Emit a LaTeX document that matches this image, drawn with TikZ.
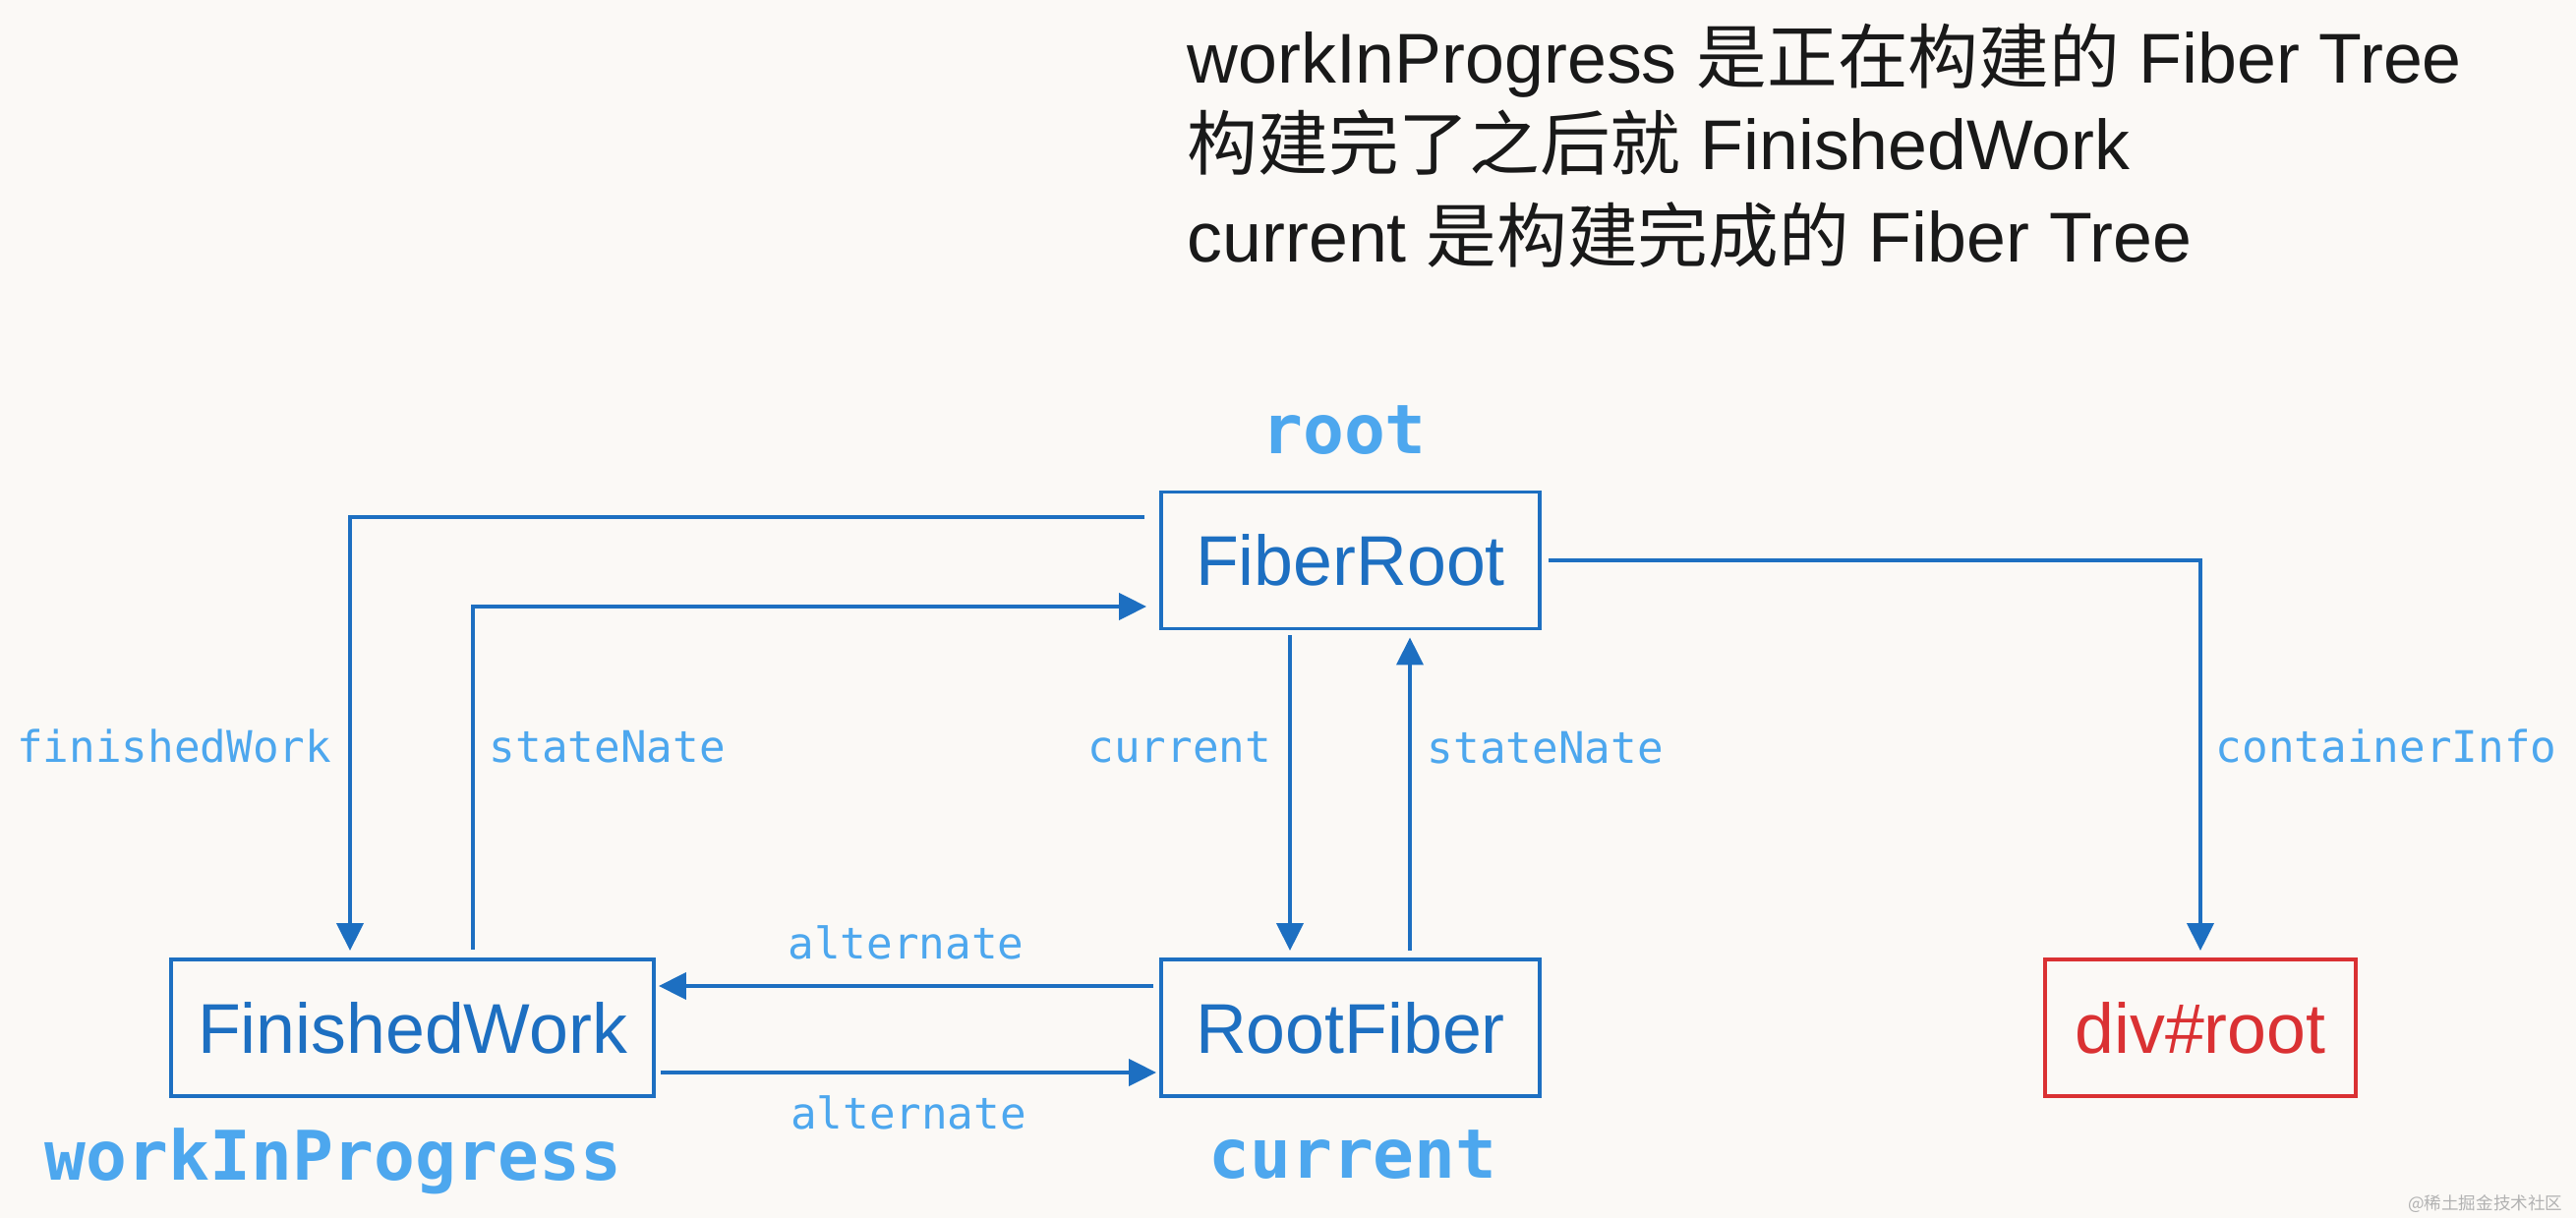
\documentclass[tikz,border=0pt]{standalone}
\usepackage{fontspec}
\setmainfont{Liberation Sans}
\setmonofont{DejaVu Sans Mono}
\newfontfamily\cjk{Noto Sans CJK SC}
\usetikzlibrary{arrows.meta}
\definecolor{boxblue}{HTML}{1D6FC1}
\definecolor{lblblue}{HTML}{4DA7EE}
\definecolor{divred}{HTML}{DA3133}
\definecolor{paper}{HTML}{FBF9F6}

\begin{document}
\begin{tikzpicture}[
        fiber/.style={draw=boxblue, line width=1.1pt, text=boxblue, font=\fontsize{20.4}{24}\selectfont, minimum height=1.39cm, inner sep=0pt},
        link/.style={draw=boxblue, line width=1.1pt, -{Triangle[length=0.28cm,width=0.27cm]}},
        edgelbl/.style={text=lblblue, font=\ttfamily\fontsize{12.6}{15}\selectfont, inner sep=0pt},
        varlbl/.style={text=lblblue, font=\ttfamily\bfseries\fontsize{19.8}{23}\selectfont, inner sep=0pt},
        note/.style={anchor=west, inner sep=0pt, text=black!90, font=\fontsize{20.4}{24}\selectfont}
    ]
    \fill[paper] (0,0) rectangle (26.2,-12.39);
    \useasboundingbox (0,0) rectangle (26.2,-12.39);

    \node[note] (line1) at (12.07,-0.62) {workInProgress {\cjk 是正在构建的} Fiber Tree};
    \node[note] (line2) at (12.07,-1.45) {{\cjk 构建完了之后就} FinishedWork};
    \node[note] (line3) at (12.07,-2.39) {current {\cjk 是构建完成的} Fiber Tree};

    \node[fiber, minimum width=3.85cm] (froot) at (13.735,-5.70) {FiberRoot};
    \node[fiber, minimum width=4.91cm] (fwork) at (4.195,-10.455) {FinishedWork};
    \node[fiber, minimum width=3.85cm] (rfiber) at (13.735,-10.455) {RootFiber};
    \node[fiber, draw=divred, text=divred, minimum width=3.16cm] (divroot) at (22.38,-10.455) {div\#root};

    \node[varlbl] (rootlbl) at (13.67,-4.38) {root};
    \node[varlbl] (wiplbl) at (3.39,-11.81) {workInProgress};
    \node[varlbl] (curlbl) at (13.76,-11.75) {current};

    \draw[link] ([xshift=-0.15cm,yshift=0.44cm]froot.west) -| node[edgelbl, pos=0.764, left=0.17cm] {finishedWork} ([xshift=-0.635cm,yshift=0.07cm]fwork.north);
    \draw[link] ([xshift=0.615cm,yshift=0.08cm]fwork.north) |- node[edgelbl, pos=0.296, right=0.15cm] {stateNate} ([xshift=-0.13cm,yshift=-0.47cm]froot.west);
    \draw[link] ([xshift=-0.615cm,yshift=-0.05cm]froot.south) -- node[edgelbl, pos=0.355, left=0.17cm] {current} ([xshift=-0.615cm,yshift=0.07cm]rfiber.north);
    \draw[link] ([xshift=0.605cm,yshift=0.07cm]rfiber.north) -- node[edgelbl, pos=0.649, right=0.16cm] {stateNate} ([xshift=0.605cm,yshift=-0.07cm]froot.south);
    \draw[link] ([xshift=0.07cm]froot.east) -| node[edgelbl, pos=0.738, right=0.14cm] {containerInfo} ([yshift=0.07cm]divroot.north);
    \draw[link] ([xshift=-0.06cm,yshift=0.425cm]rfiber.west) -- node[edgelbl, above=0.25cm] {alternate} ([xshift=0.03cm,yshift=0.425cm]fwork.east);
    \draw[link] ([xshift=0.05cm,yshift=-0.455cm]fwork.east) -- node[edgelbl, below=0.22cm] {alternate} ([xshift=-0.03cm,yshift=-0.455cm]rfiber.west);

    \node[anchor=east, inner sep=0pt, text=gray!60, font=\cjk\fontsize{5}{6}\selectfont] (mark) at (26.07,-12.25) {@稀土掘金技术社区};
\end{tikzpicture}
\end{document}
